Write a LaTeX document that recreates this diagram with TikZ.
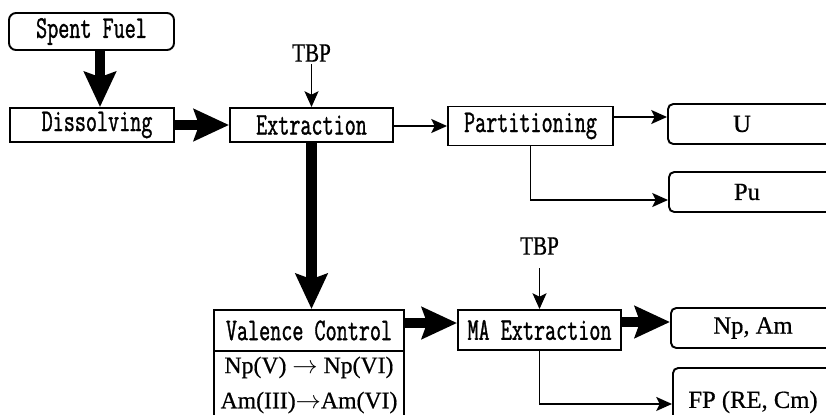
\documentclass[tikz,border=0pt]{standalone}
\usepackage{fontspec}
\setmonofont[FakeStretch=0.68, FakeBold=1.1]{Latin Modern Mono}
\newfontfamily\prodfont[FakeBold=0.6]{Liberation Serif}
\newfontfamily\feedfont[FakeStretch=0.8, FakeBold=0.6]{Liberation Serif}
\usetikzlibrary{positioning, arrows.meta}

\begin{document}
\begin{tikzpicture}[
  stage/.style={draw, line width=1.1pt, inner sep=0pt, font=\ttfamily\fontsize{18}{20}\selectfont},
  product/.style={draw, line width=1.1pt, rounded corners=3pt, minimum width=4cm, minimum height=0.8cm},
  prodtext/.style={inner sep=0pt, font=\prodfont\fontsize{14}{20}\selectfont},
  feed/.style={inner sep=0pt, font=\feedfont\fontsize{15}{18}\selectfont},
  bigflow/.style={line width=5.7pt, -{Stealth[length=20pt, width=18pt, inset=3pt]}},
  flow/.style={line width=0.9pt, -{Stealth[length=9pt, width=8pt, inset=2pt]}}
]
\useasboundingbox (0,0) rectangle (16.52,-8.28);
\clip (0,0) rectangle (16.52,-8.28);

% head end
\node[stage, rounded corners=4pt, minimum width=3.3cm, minimum height=0.74cm] (fuel) at (1.83,-0.63) {Spent Fuel};
\node[stage, minimum width=3.28cm, minimum height=0.68cm] (dissolve) at (1.84,-2.5) {\hspace*{0.2cm}Dissolving};
\node[stage, minimum width=3.26cm, minimum height=0.68cm] (extract) at (6.23,-2.5) {Extraction};
\node[stage, minimum width=3.3cm, minimum height=0.78cm] (part) at (10.61,-2.52) {Partitioning};
\node[feed, above=0.9cm of extract] (tbp1) {TBP};

% U / Pu products
\node[product, anchor=west] (u) at (13.34,-2.48) {};
\node[prodtext] (utext) at (14.84,-2.48) {U};
\node[product, anchor=west] (pu) at (13.36,-3.84) {};
\node[prodtext] (putext) at (14.94,-3.84) {Pu};

% MA line
\node[stage, minimum width=3.8cm, minimum height=0.82cm] (valence) at (6.18,-6.61) {Valence Control};
\node[stage, below=-1.1pt of valence, minimum width=3.8cm, minimum height=1.36cm, align=center,
  font=\prodfont\fontsize{13.5}{20}\selectfont] (valrx) {Np(V) $\rightarrow$ Np(VI)\\Am(III)$\rightarrow$Am(VI)};
\node[stage, minimum width=3.26cm, minimum height=0.8cm] (ma) at (10.79,-6.6) {MA Extraction};
\node[feed, above=1.08cm of ma] (tbp2) {TBP};

\node[product, anchor=west] (np) at (13.4,-6.56) {};
\node[prodtext] (nptext) at (15.06,-6.56) {Np, Am};
\node[product, anchor=north west, minimum height=1.44cm] (fp) at (13.44,-7.34) {};
\node[prodtext] (fptext) at (15.06,-8.04) {FP (RE, Cm)};

% main stream
\draw[bigflow] ([xshift=0.17cm]fuel.south) -- ([xshift=0.16cm]dissolve.north);
\draw[bigflow] (dissolve) -- (extract);
\draw[bigflow] (extract.south) -- (extract.south |- valence.north);
\draw[bigflow] ([yshift=0.15cm]valence.east) -- ([yshift=0.15cm]valence.east -| ma.west);
\draw[bigflow] ([yshift=0.16cm]ma.east) -- ([yshift=0.16cm]ma.east -| np.west);

% side streams
\draw[flow, shorten <=0.04cm] (tbp1) -- (tbp1 |- extract.north);
\draw[flow, shorten <=0.26cm] (tbp2) -- (tbp2 |- ma.north);
\draw[flow] (extract.east |- part.west) -- (part.west);
\draw[flow] ([yshift=0.18cm]part.east) -- ([yshift=0.18cm]part.east -| u.west);
\draw[flow] (part.south) |- ([yshift=-0.16cm]pu.west);
\draw[flow] (ma.south) |- (fp.west);
\end{tikzpicture}
\end{document}
